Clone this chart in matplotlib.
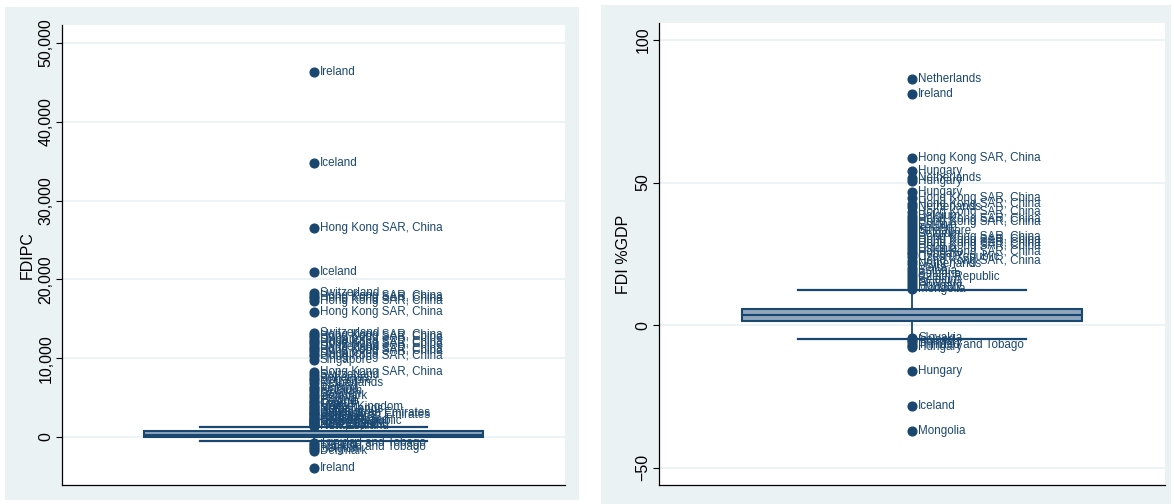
import matplotlib
matplotlib.use("Agg")
import matplotlib.pyplot as plt
from matplotlib.patches import Rectangle
from matplotlib.ticker import StrMethodFormatter

plt.rcParams['font.family'] = ['Liberation Sans', 'DejaVu Sans']

NAVY = '#1a476f'
BOXFILL = '#8fa6bd'
PANEL_BG = '#eaf2f3'
GRID = '#eaf2f3'

# ---- FDI per capita: box summary and labelled outside values ----
fdipc_box = dict(whislo=-560, q1=40, med=260, q3=700, whishi=1320)
fdipc_out = [46300, 34800, 26500, 20900, 18250, 17950, 17600, 17250, 15900,
             13250, 12950, 12650, 12350, 12050, 11750, 11450, 11150, 10850,
             10550, 10250, 9750, 8250, 7900, 7500, 7200, 6800, 6400, 6100,
             5800, 5500, 5200, 4900, 4600, 4400, 4150, 3950, 3800, 3600, 3400,
             3200, 3050, 2900, 2750, 2600, 2450, 2300, 2150, 2000, 1850, 1750,
             1650, 1550, 1450, 1380,
             -800, -1050, -1300, -1550, -1750, -3950]
fdipc_names = ["Ireland", "Iceland", "Hong Kong SAR, China", "Iceland",
               "Switzerland", "Hong Kong SAR, China", "Hong Kong SAR, China",
               "Hong Kong SAR, China", "Hong Kong SAR, China",
               "Switzerland", "Hong Kong SAR, China", "Hong Kong SAR, China",
               "Singapore", "Hong Kong SAR, China", "Hong Kong SAR, China",
               "Switzerland", "Hong Kong SAR, China", "Hong Kong SAR, China",
               "Singapore", "Hong Kong SAR, China", "Singapore",
               "Hong Kong SAR, China", "Switzerland", "Bahamas", "Singapore",
               "Netherlands", "Iceland", "Finland", "Belgium", "Sweden",
               "Denmark", "Ireland", "Estonia", "Iceland", "Cyprus", "Malta",
               "United Kingdom", "Netherlands", "Norway", "Bahrain",
               "United Arab Emirates", "Seychelles", "United Arab Emirates",
               "Australia", "Canada", "Panama", "New Zealand",
               "Czech Republic", "Luxembourg", "New Zealand", "Switzerland",
               "Israel", "New Zealand", "Hungary",
               "Trinidad and Tobago", "Iceland", "Trinidad and Tobago",
               "Belgium", "Denmark", "Ireland"]
fdipc_ticks = [0, 10000, 20000, 30000, 40000, 50000]

# ---- FDI as % of GDP ----
fdigdp_box = dict(whislo=-4.9, q1=1.5, med=3.5, q3=5.6, whishi=12.2)
fdigdp_out = [86.3, 81.0, 58.6, 54.0, 51.6, 50.4, 46.8, 44.6, 42.6, 41.3,
              39.8, 38.4, 37.2, 36.1, 35.2, 34.0, 33.0, 31.9, 30.8, 29.8,
              28.8, 27.8, 26.8, 25.8, 24.8, 23.8, 22.6, 21.4, 20.2, 19.0,
              18.0, 16.8, 15.8, 14.8, 13.8, 12.8,
              -4.6, -5.3, -6.1, -7.0, -7.7, -16.0, -28.3, -37.2]
fdigdp_names = ["Netherlands", "Ireland", "Hong Kong SAR, China", "Hungary",
                "Netherlands", "Hungary", "Hungary", "Hong Kong SAR, China",
                "Hong Kong SAR, China", "Netherlands", "Hong Kong SAR, China",
                "Belgium", "Hong Kong SAR, China", "Hong Kong SAR, China",
                "Estonia", "Ireland", "Singapore", "Belgium",
                "Hong Kong SAR, China", "Hong Kong SAR, China",
                "Hong Kong SAR, China", "Hong Kong SAR, China", "Estonia",
                "Hong Kong SAR, China", "Hungary", "Czech Republic",
                "Hong Kong SAR, China", "Netherlands", "Malta", "Estonia",
                "Bulgaria", "Czech Republic", "Belgium", "Slovakia",
                "Hungary", "Mongolia",
                "Slovakia", "Iceland", "Hungary", "Trinidad and Tobago",
                "Hungary", "Hungary", "Iceland", "Mongolia"]
fdigdp_ticks = [-50, 0, 50, 100]

W, H = 1174, 504
fig = plt.figure(figsize=(W / 100, H / 100), dpi=100)


def px_rect(x0, y0, x1, y1):
    # pixel box (top-left origin) -> figure fraction [l, b, w, h]
    return [x0 / W, (H - y1) / H, (x1 - x0) / W, (y1 - y0) / H]


def panel(outer, inner, box, out_vals, out_names, ticks, ylim, ylabel, fmt):
    l, b, w, h = px_rect(*outer)
    fig.patches.append(Rectangle((l, b), w, h, transform=fig.transFigure,
                                 facecolor=PANEL_BG, edgecolor='none',
                                 zorder=-10))
    ax = fig.add_axes(px_rect(*inner))
    ax.set_facecolor('white')

    stats = [dict(box, fliers=out_vals)]
    ax.bxp(stats, positions=[0], widths=1.344, capwidths=0.905,
           patch_artist=True, showfliers=True,
           boxprops=dict(facecolor=BOXFILL, edgecolor=NAVY, linewidth=1.5),
           medianprops=dict(color=NAVY, linewidth=1.5),
           whiskerprops=dict(color=NAVY, linewidth=1.3),
           capprops=dict(color=NAVY, linewidth=1.6),
           flierprops=dict(marker='o', markersize=6.3, markerfacecolor=NAVY,
                           markeredgecolor=NAVY, linestyle='none'))

    for v, name in zip(out_vals, out_names):
        ax.annotate(name, (0, v), xytext=(4.5, 0), textcoords='offset points',
                    ha='left', va='center', fontsize=8.4, color=NAVY)

    ax.set_xlim(-1, 1)
    ax.set_ylim(*ylim)
    ax.set_xticks([])
    ax.set_yticks(ticks)
    ax.yaxis.set_major_formatter(StrMethodFormatter(fmt))
    ax.tick_params(axis='y', direction='out', length=4, width=0.8,
                   labelsize=11.5, pad=2, colors='black')
    for lab in ax.get_yticklabels():
        lab.set_rotation(90)
        lab.set_va('center')
    ax.grid(axis='y', color=GRID, linewidth=1.3, zorder=0)
    ax.set_axisbelow(True)
    for side in ('top', 'right'):
        ax.spines[side].set_visible(False)
    for side in ('left', 'bottom'):
        ax.spines[side].set_color('black')
        ax.spines[side].set_linewidth(0.9)
    ax.set_ylabel(ylabel, fontsize=11.5, labelpad=3)
    return ax


panel((5, 7, 579, 500), (62, 25, 565, 485), fdipc_box, fdipc_out,
      fdipc_names, fdipc_ticks, (-6090, 52280), 'FDIPC', '{x:,.0f}')
panel((601, 5, 1171, 504), (659, 23, 1165, 485), fdigdp_box, fdigdp_out,
      fdigdp_names, fdigdp_ticks, (-56.1, 106.0), 'FDI %GDP', '{x:.0f}')

fig.savefig('out.png', dpi=100)
